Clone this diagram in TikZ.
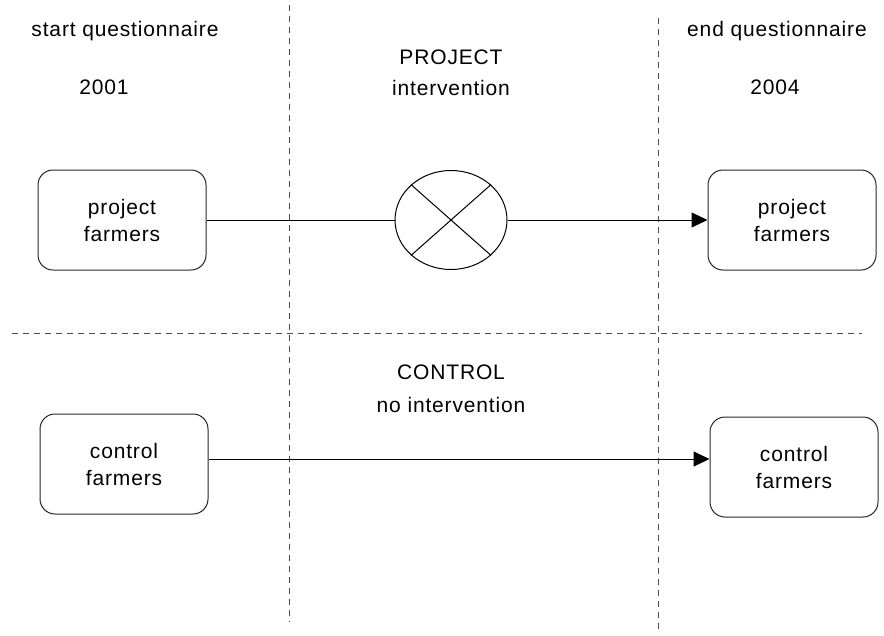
\documentclass[tikz,border=0pt]{standalone}
\usepackage{fontspec}
\setmainfont[LetterSpace=4]{Liberation Sans}
\usetikzlibrary{arrows.meta,shapes.geometric}
\begin{document}
\begin{tikzpicture}[x=1pt,y=-1pt,
  lbl/.style={font=\fontsize{21}{26}\selectfont, inner sep=0pt},
  farmbox/.style={draw=black!85, line width=1pt, rounded corners=15pt, minimum width=168pt, minimum height=100pt, align=center, font=\fontsize{21}{27}\selectfont},
  divider/.style={draw=black!70, line width=1pt, dash pattern=on 6pt off 5pt},
  conn/.style={draw=black, line width=1pt},
  arr/.style={conn, -{Triangle[length=16pt,width=15pt]}}]
\useasboundingbox (0,0) rectangle (884,635);
% dividers
\draw[divider] (289,5) -- (289,622);
\draw[divider] (658,18) -- (658,633);
\draw[divider] (12,333) -- (862,333);
% headings
\node[lbl] (hs) at (125,31) {start questionnaire};
\node[lbl] (ys) at (104,87) {2001};
\node[lbl] (hp) at (451,57) {PROJECT};
\node[lbl] (hi) at (451,88) {intervention};
\node[lbl] (he) at (777,31) {end questionnaire};
\node[lbl] (ye) at (775,87) {2004};
\node[lbl] (hc) at (451,372) {CONTROL};
\node[lbl] (hn) at (451,405) {no intervention};
% boxes
\node[farmbox] (pf1) at (122,220) {project\\farmers};
\node[farmbox] (pf2) at (792,220) {project\\farmers};
\node[farmbox] (cf1) at (124,464) {control\\farmers};
\node[farmbox] (cf2) at (794,467) {control\\farmers};
% intervention symbol
\node[draw=black, line width=1pt, ellipse, minimum width=112pt, minimum height=99pt, inner sep=0pt] (x) at (451,220) {};
\draw[line width=1pt] (x.north west) -- (x.south east);
\draw[line width=1pt] (x.north east) -- (x.south west);
% connectors
\draw[conn] (pf1.east) -- (x.west);
\draw[arr] (x.east) -- (pf2.west);
\draw[arr] (cf1.east |- 0,459) -- (cf2.west |- 0,459);
\end{tikzpicture}
\end{document}
